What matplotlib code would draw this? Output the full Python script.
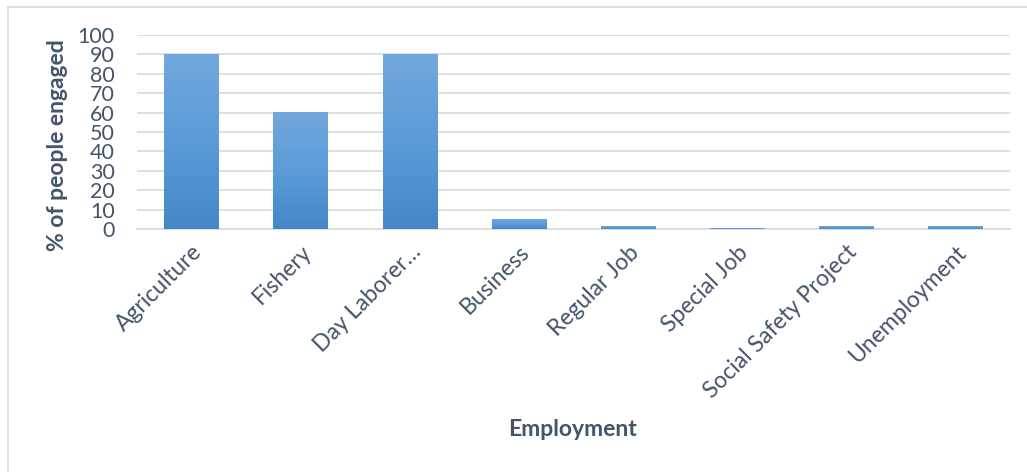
import numpy as np
import matplotlib.pyplot as plt
from matplotlib.colors import LinearSegmentedColormap
from matplotlib.lines import Line2D

# Data
categories = ["Agriculture", "Fishery", "Day Laborer…", "Business", "Regular Job",
              "Special Job", "Social Safety Project", "Unemployment"]
values = [90, 60, 90, 5, 1.5, 0.5, 1.5, 1.5]
y_ticks = list(range(0, 101, 10))

TEXT = "#44546A"
GRID = "#D9D9D9"
plt.rcParams['font.family'] = ['Lato', 'DejaVu Sans']

fig = plt.figure(figsize=(10.27, 4.72), dpi=100)
ax = fig.add_axes([137 / 1027, 1 - 229 / 472, (1010 - 137) / 1027, (229 - 35) / 472])

x = np.arange(len(categories))
width = 0.5
bars = ax.bar(x, values, width=width, color="none", zorder=3)

# vertical gradient inside each bar (light at top, darker at bottom)
cmap = LinearSegmentedColormap.from_list("bar", ["#4487C8", "#5B9BD8", "#72A8DD"])
grad = np.linspace(0, 1, 256).reshape(-1, 1)
for b in bars:
    h = b.get_height()
    x0 = b.get_x()
    ax.imshow(grad, cmap=cmap, origin="lower", aspect="auto",
              extent=(x0, x0 + b.get_width(), 0, h), zorder=3)

ax.set_xlim(-0.5, len(categories) - 0.5)
ax.set_ylim(0, 100)
ax.set_yticks(y_ticks)
ax.yaxis.grid(True, color=GRID, linewidth=1.2, zorder=0)
ax.set_axisbelow(True)
for s in ["top", "right", "left"]:
    ax.spines[s].set_visible(False)
ax.spines["bottom"].set_color(GRID)
ax.spines["bottom"].set_linewidth(1.2)
ax.tick_params(axis="both", length=0, colors=TEXT)
ax.tick_params(axis="y", labelsize=15.5, pad=16)

ax.set_xticks(x)
ax.set_xticklabels(categories, rotation=45, ha="right", rotation_mode="anchor",
                   fontsize=16.5, color=TEXT)
ax.tick_params(axis="x", pad=9)

fig.text(57 / 1027, 1 - 145 / 472, "% of people engaged", rotation=90, ha="center", va="center",
         fontsize=16.5, fontweight="bold", color=TEXT)
fig.text(573 / 1027, 1 - 430 / 472, "Employment", ha="center", va="center",
         fontsize=16.5, fontweight="bold", color=TEXT)

# chart frame lines (left and top)
fig.add_artist(Line2D([8 / 1027, 8 / 1027], [0, 1 - 7 / 472], color=GRID, linewidth=1.2,
                      transform=fig.transFigure))
fig.add_artist(Line2D([8 / 1027, 1], [1 - 7 / 472, 1 - 7 / 472], color=GRID, linewidth=1.2,
                      transform=fig.transFigure))

fig.savefig("out.png", dpi=100)
